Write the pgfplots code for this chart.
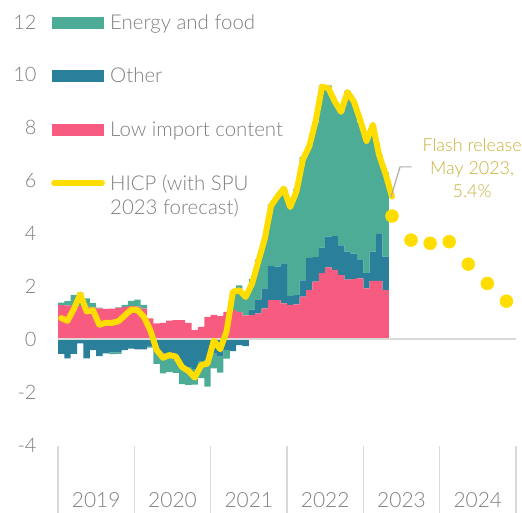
\documentclass[border=0pt]{standalone}
\usepackage{pgfplots}
\pgfplotsset{compat=1.18}
\usepackage{pgfplotstable}
\usepackage{fontspec}
\IfFontExistsTF{Lato Light}{\setmainfont{Lato Light}}{\setmainfont{Lato}}
\definecolor{cgreen}{HTML}{4DAC96}
\definecolor{cblue}{HTML}{2A7F9A}
\definecolor{cpink}{HTML}{F75C80}
\definecolor{cyellow}{HTML}{FFDD00}
\definecolor{ctext}{HTML}{7F7F7F}
\definecolor{cgrid}{HTML}{D9D9D9}
\definecolor{cflash}{HTML}{C9B037}

\pgfplotstableread{
x pink blueP greenP blueN greenN
0.5 1.29 0 0.10 -0.55 0
1.5 1.28 0 0.16 -0.72 0
2.5 1.26 0 0.42 -0.55 0
3.5 1.26 0 0.50 -0.16 0
4.5 1.23 0 0.32 -0.72 0
5.5 1.20 0 0.17 -0.41 0
6.5 1.17 0 0.03 -0.64 0
7.5 1.15 0 0 -0.53 0
8.5 1.16 0 0 -0.50 -0.06
9.5 1.19 0 0.02 -0.50 -0.05
10.5 1.22 0 0.08 -0.41 0
11.5 1.25 0 0.20 -0.35 0
12.5 1.23 0 0.27 -0.38 0
13.5 1.16 0 0.14 -0.38 0
14.5 0.79 0 0 -0.28 -0.04
15.5 0.60 0 0 -0.41 -0.52
16.5 0.62 0 0 -0.54 -0.75
17.5 0.70 0 0 -0.55 -0.68
18.5 0.72 0 0 -0.80 -0.47
19.5 0.72 0 0 -0.98 -0.72
20.5 0.62 0 0 -1.07 -0.66
21.5 0.35 0 0 -1.12 -0.60
22.5 0.47 0 0 -0.85 -0.62
23.5 0.85 0 0 -0.79 -1.00
24.5 0.92 0 0 -0.54 -0.56
25.5 0.88 0 0 -0.66 -0.60
26.5 1.04 0 0 -0.40 -0.33
27.5 1.10 0 0.72 -0.45 0
28.5 1.04 0 1.00 -0.22 0
29.5 0.90 0 0.85 -0.26 0
30.5 0.92 0.20 1.15 0 0
31.5 0.98 0.53 1.50 0 0
32.5 1.17 0.75 1.88 0 0
33.5 1.48 1.29 2.33 0 0
34.5 1.48 1.27 2.65 0 0
35.5 1.36 1.51 2.83 0 0
36.5 1.29 0.34 3.37 0 0
37.5 1.32 0.35 4.03 0 0
38.5 1.61 0.62 4.67 0 0
39.5 1.86 1.22 4.22 0 0
40.5 2.18 0.93 5.09 0 0
41.5 2.50 0.97 6.13 0 0
42.5 2.72 1.16 5.72 0 0
43.5 2.62 1.28 5.10 0 0
44.5 2.43 1.12 5.05 0 0
45.5 2.26 1.05 6.09 0 0
46.5 2.28 0.96 5.76 0 0
47.5 2.30 0.72 5.18 0 0
48.5 1.92 0.58 5.00 0 0
49.5 2.21 1.10 4.79 0 0
50.5 2.21 1.78 3.01 0 0
51.5 1.86 1.27 3.17 0 0
}\bars

\pgfplotstableread{
x v
0.5 0.8
1.5 0.7
2.5 1.15
3.5 1.7
4.5 1.05
5.5 1.1
6.5 0.55
7.5 0.62
8.5 0.62
9.5 0.68
10.5 0.9
11.5 1.12
12.5 1.1
13.5 0.85
14.5 0.35
15.5 -0.4
16.5 -0.7
17.5 -0.6
18.5 -0.65
19.5 -1.05
20.5 -1.2
21.5 -1.45
22.5 -0.98
23.5 -0.92
24.5 -0.05
25.5 -0.38
26.5 0.3
27.5 1.8
28.5 1.85
29.5 1.6
30.5 2.1
31.5 2.95
32.5 3.8
33.5 5.05
34.5 5.4
35.5 5.7
36.5 5.0
37.5 5.6
38.5 6.8
39.5 7.3
40.5 8.25
41.5 9.55
42.5 9.5
43.5 9.0
44.5 8.6
45.5 9.35
46.5 9.0
47.5 8.3
48.5 7.5
49.5 8.1
50.5 6.95
51.5 6.25
52.5 5.4
}\hicp

\pgfplotstableread{
x v
52.5 4.66
55.5 3.75
58.5 3.63
61.5 3.69
64.5 2.84
67.5 2.11
70.5 1.44
}\fcst

\pgfplotsset{base/.style={
  scale only axis, width=458bp, height=423bp,
  xmin=0, xmax=72, ymin=-4, ymax=12, clip=false}}

\begin{document}
\begin{tikzpicture}
% positive stack
\begin{axis}[base, hide axis, ybar stacked, bar width=1]
\addplot[fill=cpink, draw=none] table[x=x,y=pink]{\bars};
\addplot[fill=cblue, draw=none] table[x=x,y=blueP]{\bars};
\addplot[fill=cgreen, draw=none] table[x=x,y=greenP]{\bars};
\end{axis}
% negative stack
\begin{axis}[base, hide axis, ybar stacked, bar width=1]
\addplot[fill=cblue, draw=none] table[x=x,y=blueN]{\bars};
\addplot[fill=cgreen, draw=none] table[x=x,y=greenN]{\bars};
\end{axis}
% line, forecast, labels
\begin{axis}[base,
  axis line style={draw=none},
  ytick={-4,-2,0,2,4,6,8,10,12},
  yticklabels={-4,-2,0,2,4,6,8,10,12},
  ytick style={draw=none},
  yticklabel style={font=\fontsize{20}{24}\selectfont, text=ctext, anchor=east, xshift=-18bp},
  xtick={6,18,30,42,54,66},
  xticklabels={2019,2020,2021,2022,2023,2024},
  xtick style={draw=none},
  xticklabel style={font=\fontsize{21}{24}\selectfont, text=ctext, anchor=base, yshift=-62bp},
]
\coordinate (SW) at (rel axis cs:0,0);
\coordinate (NE) at (rel axis cs:1,1);
\draw[cgrid, line width=1.6bp] (axis cs:0,0) -- (axis cs:72,0);
\pgfplotsinvokeforeach{0,12,24,36,48,60,72}{
  \draw[cgrid, line width=1.5bp] (axis cs:#1,-4.05) -- (axis cs:#1,-6.6);
}
\addplot[cyellow, line width=6bp, line join=round, line cap=round] table[x=x,y=v]{\hicp};
\addplot[only marks, mark=*, mark size=6.5bp, color=cyellow, mark options={fill=cyellow, draw=cyellow}] table[x=x,y=v]{\fcst};
\draw[gray!65, line width=1.2bp] (axis cs:52.35,5.39) -- (axis cs:53.77,6.52) -- (axis cs:55.6,6.52);
\node[align=center, text=cflash, font=\fontsize{18}{23}\selectfont, inner sep=0pt] at (axis cs:65.1,6.47) {Flash release\\May 2023,\\5.4\%};
% legend
\fill[cgreen] (axis cs:-0.94,11.75) rectangle (axis cs:7.23,12.2);
\fill[cblue] (axis cs:-0.94,9.73) rectangle (axis cs:7.23,10.18);
\fill[cpink] (axis cs:-0.94,7.69) rectangle (axis cs:7.23,8.14);
\draw[cyellow, line width=6bp, line cap=round] (axis cs:-0.6,5.9) -- (axis cs:6.9,5.9);
\begin{scope}[every node/.style={text=ctext, font=\fontsize{20.5}{25}\selectfont, inner sep=0pt, anchor=base west}]
\node at (axis cs:8.17,11.73) {Energy and food};
\node at (axis cs:8.17,9.71) {Other};
\node at (axis cs:8.17,7.67) {Low import content};
\node at (axis cs:8.17,5.64) {HICP (with SPU};
\node at (axis cs:8.17,4.70) {2023 forecast)};
\end{scope}
\end{axis}
\pgfresetboundingbox
\path ([xshift=-58bp,yshift=-67bp]SW) rectangle ([xshift=6bp,yshift=22bp]NE);
\end{tikzpicture}
\end{document}
